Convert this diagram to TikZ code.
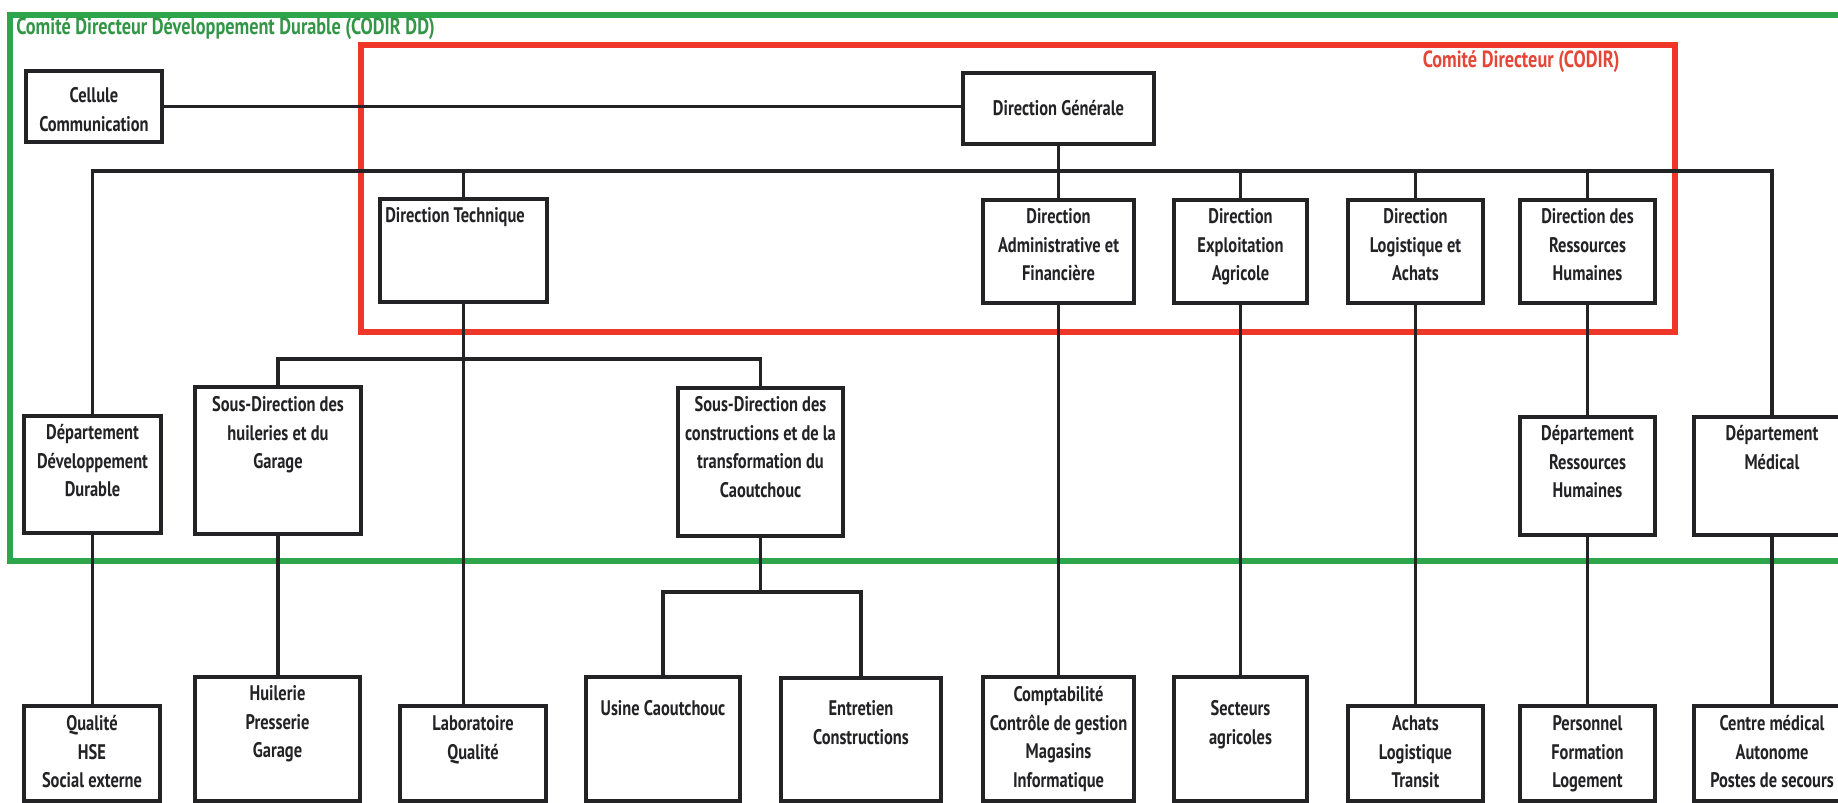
\documentclass[tikz,border=0pt]{standalone}
\usepackage{fontspec}
\newfontfamily\orgf{PT Sans}[FakeStretch=0.78]
\definecolor{gfr}{RGB}{45,165,75}
\definecolor{gtx}{RGB}{50,150,70}
\definecolor{rfr}{RGB}{238,55,40}
\definecolor{rtx}{RGB}{228,70,55}
\definecolor{ink}{RGB}{35,35,38}
\tikzset{
  bx/.style={draw=ink, line width=2.3pt, inner sep=0pt, outer sep=0pt, rectangle},
  tx/.style={font=\orgf\bfseries\fontsize{12}{16.4}\selectfont, text=ink, align=center, inner sep=0pt},
  lbl/.style={font=\orgf\bfseries\fontsize{13.3}{16.4}\selectfont, inner sep=0pt},
  conn/.style={draw=ink, line width=2pt},
  gframe/.style={draw=gfr, line width=3pt},
  rframe/.style={draw=rfr, line width=3pt},
}
\newcommand\obox[7]{%
  \node[bx, anchor=north west, minimum width={(#4-#2)*0.02cm}, minimum height={(#5-#3)*0.02cm}] (#1) at (#2,#3) {};
  \node[tx, anchor=north] (#1t) at ({(#2+#4)/2},{#6-21.2}) {\rule{0pt}{12pt}#7};
}
\begin{document}
\begin{tikzpicture}[x=0.02cm, y=-0.02cm]
\useasboundingbox (0,0) rectangle (1838,803);
\clip (0,0) rectangle (1838,803);
\fill[white] (0,0) rectangle (1838,803);

% frames
\draw[gframe] (1870,15) -- (10,15) -- (10,561) -- (1870,561);
\node[lbl, text=gtx, anchor=base west] (gtitle) at (16,35) {Comité Directeur Développement Durable (CODIR DD)};
\draw[rframe] (361,45) rectangle (1675,332);
\node[lbl, text=rtx, anchor=base east] (rtitle) at (1620,68) {Comité Directeur (CODIR)};

% boxes
\obox{cel}{26}{71}{162}{142}{102}{Cellule\\Communication}
\obox{dg}{963}{73}{1154}{144}{115}{Direction Générale}
\node[bx, anchor=north west, minimum width={167*0.02cm}, minimum height={103*0.02cm}] (dt) at (380,199) {};
\node[tx, anchor=north west] (dtt) at (385,{222-21.2}) {\rule{0pt}{12pt}Direction Technique};
\obox{daf}{983}{200}{1134}{303}{223}{Direction\\Administrative et\\Financière}
\obox{dea}{1174}{200}{1307}{303}{223}{Direction\\Exploitation\\Agricole}
\obox{dla}{1348}{200}{1483}{303}{223}{Direction\\Logistique et\\Achats}
\obox{drh}{1520}{200}{1655}{303}{223}{Direction des\\Ressources\\Humaines}

\obox{ddd}{24}{416}{161}{533}{439}{Département\\Développement\\Durable}
\obox{sdh}{195}{387}{361}{534}{411}{Sous-Direction des\\huileries et du\\Garage}
\obox{sdc}{678}{388}{843}{536}{411}{Sous-Direction des\\constructions et de la\\transformation du\\Caoutchouc}
\obox{drhd}{1520}{417}{1655}{535}{440}{Département\\Ressources\\Humaines}
\obox{dmed}{1694}{417}{1850}{535}{440}{Département\\Médical}

\obox{qual}{24}{706}{160}{801}{730}{Qualité\\HSE\\Social externe}
\obox{huil}{195}{677}{360}{801}{700}{Huilerie\\Presserie\\Garage}
\obox{lab}{400}{706}{546}{801}{730}{Laboratoire\\Qualité}
\obox{usine}{586}{677}{740}{801}{715}{Usine Caoutchouc}
\obox{entr}{781}{678}{941}{801}{715}{Entretien\\Constructions}
\obox{compta}{983}{677}{1134}{801}{701}{Comptabilité\\Contrôle de gestion\\Magasins\\Informatique}
\obox{sect}{1174}{677}{1307}{801}{715}{Secteurs\\agricoles}
\obox{ach}{1348}{706}{1483}{801}{730}{Achats\\Logistique\\Transit}
\obox{pers}{1520}{706}{1655}{801}{730}{Personnel\\Formation\\Logement}
\obox{cm}{1694}{706}{1850}{801}{730}{Centre médical\\Autonome\\Postes de secours}

% connectors
\coordinate (busy) at (0,171);
\coordinate (brk) at (0,359);
\coordinate (brk2) at (0,592);
\draw[conn] (cel.east) -- (cel.east -| dg.west);
\draw[conn] (dg.south) -- (dg.south |- daf.north);
\draw[conn] (ddd.north) -- (ddd.north |- busy) -- (dmed.north |- busy) -- (dmed.north);
\draw[conn] (dt.north |- busy) -- (dt.north);
\draw[conn] (dea.north |- busy) -- (dea.north);
\draw[conn] (dla.north |- busy) -- (dla.north);
\draw[conn] (drh.north |- busy) -- (drh.north);
\draw[conn] (dt.south) -- (dt.south |- lab.north);
\draw[conn] (sdh.north) -- (sdh.north |- brk) -- (sdc.north |- brk) -- (sdc.north);
\draw[conn] (ddd.south) -- (ddd.south |- qual.north);
\draw[conn] (sdh.south) -- (sdh.south |- huil.north);
\draw[conn] (sdc.south) -- (sdc.south |- brk2);
\draw[conn] (usine.north) -- (usine.north |- brk2) -- (entr.north |- brk2) -- (entr.north);
\draw[conn] (daf.south) -- (daf.south |- compta.north);
\draw[conn] (dea.south) -- (dea.south |- sect.north);
\draw[conn] (dla.south) -- (dla.south |- ach.north);
\draw[conn] (drh.south) -- (drh.south |- drhd.north);
\draw[conn] (drhd.south) -- (drhd.south |- pers.north);
\draw[conn] (dmed.south) -- (dmed.south |- cm.north);
\end{tikzpicture}
\end{document}
